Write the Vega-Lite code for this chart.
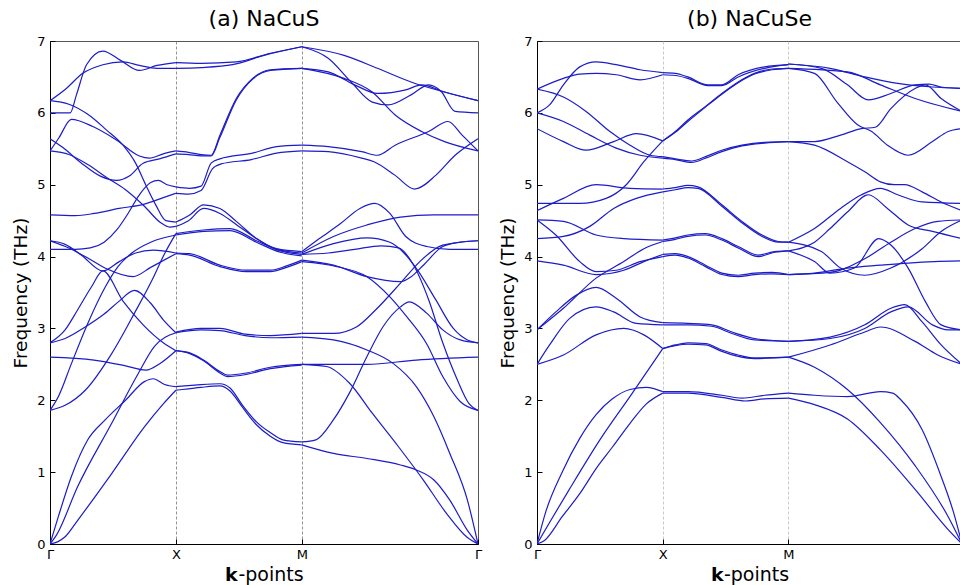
{
"$schema":"https://vega.github.io/schema/vega-lite/v6.json",
"padding":{"left":11,"top":7,"right":0,"bottom":0},
"spacing":15,
"config":{
 "font":"DejaVu Sans",
 "view":{"stroke":"#555","strokeWidth":1},
 "axis":{"domainColor":"#000","domainWidth":1,"tickColor":"#000","tickSize":-5,"labelFontSize":13,"labelColor":"#000","titleFontSize":18.5,"titleFontWeight":"normal","titleColor":"#000","labelFont":"DejaVu Sans","titleFont":"DejaVu Sans","labelFlush":false,"labelOverlap":false},
 "title":{"fontSize":22,"fontWeight":"normal","color":"#000","font":"DejaVu Sans","offset":4},
 "line":{"interpolate":"monotone","color":"#1c1cc8","strokeWidth":1.2}
},
"datasets":{
"a":[
{"b":"g1","k":0,"f":6.0},{"b":"g1","k":0.16,"f":6.0},{"b":"g1","k":0.21,"f":6.25},{"b":"g1","k":0.29,"f":6.67},{"b":"g1","k":0.42,"f":6.86},{"b":"g1","k":0.56,"f":6.73},{"b":"g1","k":0.71,"f":6.59},{"b":"g1","k":0.85,"f":6.66},{"b":"g1","k":1,"f":6.7},
{"b":"g2","k":0,"f":6.17},{"b":"g2","k":0.13,"f":6.34},{"b":"g2","k":0.26,"f":6.55},{"b":"g2","k":0.42,"f":6.67},{"b":"g2","k":0.58,"f":6.71},{"b":"g2","k":0.71,"f":6.66},{"b":"g2","k":0.85,"f":6.62},{"b":"g2","k":1,"f":6.62},
{"b":"g3","k":0,"f":6.17},{"b":"g3","k":0.15,"f":6.12},{"b":"g3","k":0.3,"f":5.98},{"b":"g3","k":0.45,"f":5.76},{"b":"g3","k":0.58,"f":5.55},{"b":"g3","k":0.68,"f":5.3},{"b":"g3","k":0.76,"f":5.0},{"b":"g3","k":0.84,"f":4.72},{"b":"g3","k":0.92,"f":4.5},{"b":"g3","k":1,"f":4.48},
{"b":"g4","k":0,"f":5.47},{"b":"g4","k":0.07,"f":5.65},{"b":"g4","k":0.17,"f":5.91},{"b":"g4","k":0.34,"f":5.81},{"b":"g4","k":0.53,"f":5.62},{"b":"g4","k":0.71,"f":5.4},{"b":"g4","k":0.79,"f":5.37},{"b":"g4","k":0.9,"f":5.43},{"b":"g4","k":1,"f":5.47},
{"b":"g5","k":0,"f":5.64},{"b":"g5","k":0.1,"f":5.52},{"b":"g5","k":0.25,"f":5.3},{"b":"g5","k":0.4,"f":5.12},{"b":"g5","k":0.53,"f":5.06},{"b":"g5","k":0.63,"f":5.12},{"b":"g5","k":0.74,"f":5.3},{"b":"g5","k":0.87,"f":5.36},{"b":"g5","k":1,"f":5.43},
{"b":"g6","k":0,"f":5.47},{"b":"g6","k":0.15,"f":5.42},{"b":"g6","k":0.3,"f":5.28},{"b":"g6","k":0.45,"f":5.1},{"b":"g6","k":0.6,"f":4.93},{"b":"g6","k":0.75,"f":4.7},{"b":"g6","k":0.88,"f":4.47},{"b":"g6","k":0.95,"f":4.41},{"b":"g6","k":1,"f":4.42},
{"b":"g7","k":0,"f":4.58},{"b":"g7","k":0.2,"f":4.57},{"b":"g7","k":0.35,"f":4.6},{"b":"g7","k":0.55,"f":4.67},{"b":"g7","k":0.75,"f":4.73},{"b":"g7","k":0.9,"f":4.82},{"b":"g7","k":1,"f":4.88},
{"b":"g8","k":0,"f":4.1},{"b":"g8","k":0.2,"f":4.1},{"b":"g8","k":0.32,"f":4.12},{"b":"g8","k":0.43,"f":4.2},{"b":"g8","k":0.53,"f":4.37},{"b":"g8","k":0.62,"f":4.6},{"b":"g8","k":0.71,"f":4.86},{"b":"g8","k":0.8,"f":5.03},{"b":"g8","k":0.86,"f":5.06},{"b":"g8","k":0.93,"f":5.0},{"b":"g8","k":1,"f":4.97},
{"b":"g9","k":0,"f":4.22},{"b":"g9","k":0.12,"f":4.17},{"b":"g9","k":0.25,"f":4.02},{"b":"g9","k":0.42,"f":3.8},{"b":"g9","k":0.55,"f":3.93},{"b":"g9","k":0.68,"f":4.05},{"b":"g9","k":0.82,"f":4.09},{"b":"g9","k":1,"f":4.05},
{"b":"g10","k":0,"f":4.22},{"b":"g10","k":0.15,"f":4.12},{"b":"g10","k":0.3,"f":3.98},{"b":"g10","k":0.45,"f":3.83},{"b":"g10","k":0.66,"f":3.72},{"b":"g10","k":0.8,"f":3.85},{"b":"g10","k":1,"f":4.04},
{"b":"g11","k":0,"f":2.8},{"b":"g11","k":0.12,"f":2.98},{"b":"g11","k":0.22,"f":3.26},{"b":"g11","k":0.33,"f":3.58},{"b":"g11","k":0.42,"f":3.8},{"b":"g11","k":0.58,"f":3.38},{"b":"g11","k":0.74,"f":3.05},{"b":"g11","k":0.9,"f":2.8},{"b":"g11","k":1,"f":2.69},
{"b":"g12","k":0,"f":2.8},{"b":"g12","k":0.12,"f":2.86},{"b":"g12","k":0.28,"f":3.02},{"b":"g12","k":0.43,"f":3.2},{"b":"g12","k":0.55,"f":3.38},{"b":"g12","k":0.67,"f":3.53},{"b":"g12","k":0.8,"f":3.35},{"b":"g12","k":0.9,"f":3.12},{"b":"g12","k":1,"f":2.94},
{"b":"g13","k":0,"f":2.6},{"b":"g13","k":0.35,"f":2.56},{"b":"g13","k":0.6,"f":2.48},{"b":"g13","k":0.76,"f":2.42},{"b":"g13","k":0.88,"f":2.52},{"b":"g13","k":1,"f":2.69},
{"b":"g14","k":0,"f":1.86},{"b":"g14","k":0.066,"f":2.05},{"b":"g14","k":0.17,"f":2.51},{"b":"g14","k":0.3,"f":3.07},{"b":"g14","k":0.44,"f":3.58},{"b":"g14","k":0.54,"f":3.86},{"b":"g14","k":0.65,"f":4.05},{"b":"g14","k":0.8,"f":4.2},{"b":"g14","k":1,"f":4.3},
{"b":"g15","k":0,"f":1.86},{"b":"g15","k":0.12,"f":1.93},{"b":"g15","k":0.28,"f":2.14},{"b":"g15","k":0.49,"f":2.65},{"b":"g15","k":0.67,"f":3.21},{"b":"g15","k":0.81,"f":3.67},{"b":"g15","k":0.91,"f":4.04},{"b":"g15","k":1,"f":4.32},
{"b":"g16","k":0,"f":0},{"b":"g16","k":0.066,"f":0.38},{"b":"g16","k":0.17,"f":0.94},{"b":"g16","k":0.3,"f":1.45},{"b":"g16","k":0.44,"f":1.73},{"b":"g16","k":0.6,"f":2.0},{"b":"g16","k":0.75,"f":2.26},{"b":"g16","k":0.82,"f":2.3},{"b":"g16","k":0.91,"f":2.22},{"b":"g16","k":1,"f":2.19},
{"b":"g17","k":0,"f":0},{"b":"g17","k":0.05,"f":0.12},{"b":"g17","k":0.22,"f":0.8},{"b":"g17","k":0.49,"f":1.68},{"b":"g17","k":0.7,"f":2.37},{"b":"g17","k":0.83,"f":2.75},{"b":"g17","k":1,"f":2.94},
{"b":"g18","k":0,"f":0},{"b":"g18","k":0.06,"f":0.03},{"b":"g18","k":0.12,"f":0.1},{"b":"g18","k":0.22,"f":0.33},{"b":"g18","k":0.49,"f":0.98},{"b":"g18","k":0.75,"f":1.63},{"b":"g18","k":0.9,"f":1.95},{"b":"g18","k":1,"f":2.14},
{"b":"x1","k":1,"f":6.7},{"b":"x1","k":1.2,"f":6.69},{"b":"x1","k":1.48,"f":6.71},{"b":"x1","k":1.75,"f":6.83},{"b":"x1","k":2,"f":6.92},
{"b":"x2","k":1,"f":6.62},{"b":"x2","k":1.2,"f":6.63},{"b":"x2","k":1.45,"f":6.67},{"b":"x2","k":1.7,"f":6.8},{"b":"x2","k":2,"f":6.92},
{"b":"x3","k":1,"f":5.47},{"b":"x3","k":1.1,"f":5.45},{"b":"x3","k":1.2,"f":5.42},{"b":"x3","k":1.28,"f":5.41},{"b":"x3","k":1.35,"f":5.69},{"b":"x3","k":1.48,"f":6.2},{"b":"x3","k":1.61,"f":6.48},{"b":"x3","k":1.75,"f":6.6},{"b":"x3","k":2,"f":6.62},
{"b":"x4","k":1,"f":5.43},{"b":"x4","k":1.1,"f":5.42},{"b":"x4","k":1.2,"f":5.4},{"b":"x4","k":1.28,"f":5.4},{"b":"x4","k":1.35,"f":5.66},{"b":"x4","k":1.48,"f":6.18},{"b":"x4","k":1.61,"f":6.47},{"b":"x4","k":1.75,"f":6.59},{"b":"x4","k":2,"f":6.62},
{"b":"x5","k":1,"f":4.97},{"b":"x5","k":1.11,"f":4.95},{"b":"x5","k":1.2,"f":4.98},{"b":"x5","k":1.28,"f":5.3},{"b":"x5","k":1.35,"f":5.36},{"b":"x5","k":1.61,"f":5.44},{"b":"x5","k":1.8,"f":5.53},{"b":"x5","k":2,"f":5.55},
{"b":"x6","k":1,"f":4.88},{"b":"x6","k":1.1,"f":4.87},{"b":"x6","k":1.2,"f":4.92},{"b":"x6","k":1.29,"f":5.22},{"b":"x6","k":1.36,"f":5.29},{"b":"x6","k":1.6,"f":5.35},{"b":"x6","k":1.8,"f":5.44},{"b":"x6","k":2,"f":5.47},
{"b":"x7","k":1,"f":4.48},{"b":"x7","k":1.11,"f":4.58},{"b":"x7","k":1.22,"f":4.72},{"b":"x7","k":1.35,"f":4.67},{"b":"x7","k":1.48,"f":4.49},{"b":"x7","k":1.64,"f":4.25},{"b":"x7","k":1.8,"f":4.11},{"b":"x7","k":2,"f":4.07},
{"b":"x8","k":1,"f":4.42},{"b":"x8","k":1.1,"f":4.5},{"b":"x8","k":1.22,"f":4.67},{"b":"x8","k":1.35,"f":4.6},{"b":"x8","k":1.5,"f":4.42},{"b":"x8","k":1.65,"f":4.24},{"b":"x8","k":1.8,"f":4.1},{"b":"x8","k":2,"f":4.05},
{"b":"x9","k":1,"f":4.32},{"b":"x9","k":1.22,"f":4.37},{"b":"x9","k":1.43,"f":4.39},{"b":"x9","k":1.64,"f":4.22},{"b":"x9","k":1.83,"f":4.08},{"b":"x9","k":2,"f":4.03},
{"b":"x10","k":1,"f":4.3},{"b":"x10","k":1.22,"f":4.35},{"b":"x10","k":1.43,"f":4.36},{"b":"x10","k":1.64,"f":4.2},{"b":"x10","k":1.83,"f":4.06},{"b":"x10","k":2,"f":4.01},
{"b":"x11","k":1,"f":4.05},{"b":"x11","k":1.11,"f":4.04},{"b":"x11","k":1.35,"f":3.88},{"b":"x11","k":1.56,"f":3.81},{"b":"x11","k":1.75,"f":3.81},{"b":"x11","k":1.88,"f":3.87},{"b":"x11","k":2,"f":3.95},
{"b":"x12","k":1,"f":4.04},{"b":"x12","k":1.11,"f":4.02},{"b":"x12","k":1.35,"f":3.86},{"b":"x12","k":1.56,"f":3.79},{"b":"x12","k":1.75,"f":3.79},{"b":"x12","k":1.88,"f":3.85},{"b":"x12","k":2,"f":3.93},
{"b":"x13","k":1,"f":2.95},{"b":"x13","k":1.2,"f":3.0},{"b":"x13","k":1.35,"f":3.0},{"b":"x13","k":1.55,"f":2.92},{"b":"x13","k":1.75,"f":2.9},{"b":"x13","k":2,"f":2.93},
{"b":"x14","k":1,"f":2.94},{"b":"x14","k":1.2,"f":2.98},{"b":"x14","k":1.35,"f":2.97},{"b":"x14","k":1.55,"f":2.9},{"b":"x14","k":1.75,"f":2.87},{"b":"x14","k":2,"f":2.88},
{"b":"x15","k":1,"f":2.69},{"b":"x15","k":1.11,"f":2.66},{"b":"x15","k":1.22,"f":2.56},{"b":"x15","k":1.35,"f":2.4},{"b":"x15","k":1.41,"f":2.35},{"b":"x15","k":1.56,"f":2.38},{"b":"x15","k":1.75,"f":2.46},{"b":"x15","k":2,"f":2.5},
{"b":"x16","k":1,"f":2.69},{"b":"x16","k":1.11,"f":2.65},{"b":"x16","k":1.22,"f":2.55},{"b":"x16","k":1.35,"f":2.38},{"b":"x16","k":1.41,"f":2.33},{"b":"x16","k":1.56,"f":2.36},{"b":"x16","k":1.75,"f":2.44},{"b":"x16","k":2,"f":2.49},
{"b":"x17","k":1,"f":2.19},{"b":"x17","k":1.15,"f":2.21},{"b":"x17","k":1.35,"f":2.23},{"b":"x17","k":1.43,"f":2.17},{"b":"x17","k":1.53,"f":1.93},{"b":"x17","k":1.64,"f":1.7},{"b":"x17","k":1.75,"f":1.55},{"b":"x17","k":1.85,"f":1.45},{"b":"x17","k":2,"f":1.42},
{"b":"x18","k":1,"f":2.14},{"b":"x18","k":1.1,"f":2.16},{"b":"x18","k":1.2,"f":2.18},{"b":"x18","k":1.35,"f":2.2},{"b":"x18","k":1.43,"f":2.13},{"b":"x18","k":1.53,"f":1.9},{"b":"x18","k":1.64,"f":1.66},{"b":"x18","k":1.75,"f":1.5},{"b":"x18","k":1.85,"f":1.41},{"b":"x18","k":2,"f":1.38},
{"b":"m1","k":2,"f":6.92},{"b":"m1","k":2.336,"f":6.8},{"b":"m1","k":2.602,"f":6.62},{"b":"m1","k":2.868,"f":6.43},{"b":"m1","k":3.134,"f":6.29},{"b":"m1","k":3.4,"f":6.17},
{"b":"m2","k":2,"f":6.92},{"b":"m2","k":2.21,"f":6.76},{"b":"m2","k":2.392,"f":6.43},{"b":"m2","k":2.56,"f":6.15},{"b":"m2","k":2.686,"f":6.11},{"b":"m2","k":2.868,"f":6.25},{"b":"m2","k":3.008,"f":6.39},{"b":"m2","k":3.106,"f":6.3},{"b":"m2","k":3.218,"f":6.02},{"b":"m2","k":3.4,"f":6.0},
{"b":"m3","k":2,"f":6.62},{"b":"m3","k":2.21,"f":6.57},{"b":"m3","k":2.42,"f":6.39},{"b":"m3","k":2.602,"f":6.27},{"b":"m3","k":2.826,"f":6.32},{"b":"m3","k":2.952,"f":6.39},{"b":"m3","k":3.134,"f":6.29},{"b":"m3","k":3.4,"f":6.17},
{"b":"m4","k":2,"f":6.62},{"b":"m4","k":2.336,"f":6.48},{"b":"m4","k":2.56,"f":6.29},{"b":"m4","k":2.742,"f":5.97},{"b":"m4","k":2.952,"f":5.74},{"b":"m4","k":3.134,"f":5.6},{"b":"m4","k":3.4,"f":5.47},
{"b":"m5","k":2,"f":5.55},{"b":"m5","k":2.21,"f":5.53},{"b":"m5","k":2.476,"f":5.46},{"b":"m5","k":2.602,"f":5.41},{"b":"m5","k":2.742,"f":5.55},{"b":"m5","k":3.008,"f":5.74},{"b":"m5","k":3.162,"f":5.88},{"b":"m5","k":3.274,"f":5.69},{"b":"m5","k":3.4,"f":5.47},
{"b":"m6","k":2,"f":5.47},{"b":"m6","k":2.21,"f":5.46},{"b":"m6","k":2.476,"f":5.37},{"b":"m6","k":2.574,"f":5.32},{"b":"m6","k":2.742,"f":5.13},{"b":"m6","k":2.896,"f":4.94},{"b":"m6","k":3.064,"f":5.13},{"b":"m6","k":3.218,"f":5.41},{"b":"m6","k":3.4,"f":5.64},
{"b":"m7","k":2,"f":4.07},{"b":"m7","k":2.14,"f":4.25},{"b":"m7","k":2.308,"f":4.46},{"b":"m7","k":2.462,"f":4.67},{"b":"m7","k":2.581,"f":4.74},{"b":"m7","k":2.7,"f":4.6},{"b":"m7","k":2.826,"f":4.28},{"b":"m7","k":2.994,"f":4.14},{"b":"m7","k":3.176,"f":4.1},{"b":"m7","k":3.4,"f":4.1},
{"b":"m8","k":2,"f":4.05},{"b":"m8","k":2.252,"f":4.28},{"b":"m8","k":2.518,"f":4.44},{"b":"m8","k":2.784,"f":4.55},{"b":"m8","k":3.05,"f":4.58},{"b":"m8","k":3.4,"f":4.58},
{"b":"m9","k":2,"f":4.03},{"b":"m9","k":2.252,"f":4.18},{"b":"m9","k":2.518,"f":4.26},{"b":"m9","k":2.7,"f":4.2},{"b":"m9","k":2.812,"f":4.05},{"b":"m9","k":2.924,"f":3.8},{"b":"m9","k":3.064,"f":3.4},{"b":"m9","k":3.204,"f":3.0},{"b":"m9","k":3.316,"f":2.84},{"b":"m9","k":3.4,"f":2.8},
{"b":"m10","k":2,"f":4.03},{"b":"m10","k":2.21,"f":4.05},{"b":"m10","k":2.42,"f":4.1},{"b":"m10","k":2.63,"f":4.15},{"b":"m10","k":2.77,"f":4.12},{"b":"m10","k":2.882,"f":3.9},{"b":"m10","k":3.008,"f":3.4},{"b":"m10","k":3.12,"f":2.8},{"b":"m10","k":3.232,"f":2.3},{"b":"m10","k":3.33,"f":1.95},{"b":"m10","k":3.4,"f":1.86},
{"b":"m11","k":2,"f":3.95},{"b":"m11","k":2.252,"f":3.88},{"b":"m11","k":2.518,"f":3.72},{"b":"m11","k":2.784,"f":3.65},{"b":"m11","k":2.868,"f":3.72},{"b":"m11","k":2.966,"f":3.88},{"b":"m11","k":3.12,"f":4.14},{"b":"m11","k":3.26,"f":4.2},{"b":"m11","k":3.4,"f":4.22},
{"b":"m12","k":2,"f":3.93},{"b":"m12","k":2.28,"f":3.86},{"b":"m12","k":2.518,"f":3.72},{"b":"m12","k":2.7,"f":3.44},{"b":"m12","k":2.84,"f":3.15},{"b":"m12","k":2.994,"f":2.78},{"b":"m12","k":3.12,"f":2.33},{"b":"m12","k":3.26,"f":1.98},{"b":"m12","k":3.4,"f":1.86},
{"b":"m13","k":2,"f":2.93},{"b":"m13","k":2.252,"f":2.93},{"b":"m13","k":2.434,"f":3.02},{"b":"m13","k":2.588,"f":3.26},{"b":"m13","k":2.784,"f":3.63},{"b":"m13","k":2.938,"f":3.93},{"b":"m13","k":3.12,"f":4.16},{"b":"m13","k":3.4,"f":4.22},
{"b":"m14","k":2,"f":1.42},{"b":"m14","k":2.112,"f":1.45},{"b":"m14","k":2.252,"f":1.73},{"b":"m14","k":2.378,"f":2.1},{"b":"m14","k":2.518,"f":2.61},{"b":"m14","k":2.644,"f":3.02},{"b":"m14","k":2.784,"f":3.3},{"b":"m14","k":2.854,"f":3.37},{"b":"m14","k":2.994,"f":3.21},{"b":"m14","k":3.12,"f":2.98},{"b":"m14","k":3.26,"f":2.84},{"b":"m14","k":3.4,"f":2.8},
{"b":"m15","k":2,"f":2.88},{"b":"m15","k":2.252,"f":2.84},{"b":"m15","k":2.518,"f":2.7},{"b":"m15","k":2.728,"f":2.51},{"b":"m15","k":2.91,"f":2.19},{"b":"m15","k":3.05,"f":1.77},{"b":"m15","k":3.176,"f":1.26},{"b":"m15","k":3.316,"f":0.61},{"b":"m15","k":3.4,"f":0},
{"b":"m16","k":2,"f":2.5},{"b":"m16","k":2.518,"f":2.5},{"b":"m16","k":2.91,"f":2.56},{"b":"m16","k":3.4,"f":2.6},
{"b":"m17","k":2,"f":2.5},{"b":"m17","k":2.196,"f":2.47},{"b":"m17","k":2.378,"f":2.24},{"b":"m17","k":2.56,"f":1.82},{"b":"m17","k":2.77,"f":1.35},{"b":"m17","k":2.966,"f":0.89},{"b":"m17","k":3.148,"f":0.43},{"b":"m17","k":3.316,"f":0.09},{"b":"m17","k":3.4,"f":0},
{"b":"m18","k":2,"f":1.38},{"b":"m18","k":2.252,"f":1.26},{"b":"m18","k":2.518,"f":1.19},{"b":"m18","k":2.784,"f":1.1},{"b":"m18","k":2.91,"f":1.03},{"b":"m18","k":3.05,"f":0.89},{"b":"m18","k":3.176,"f":0.61},{"b":"m18","k":3.316,"f":0.19},{"b":"m18","k":3.4,"f":0}
],
"b":[
{"b":"R1","k":0,"f":6.0},{"b":"R1","k":0.1,"f":6.11},{"b":"R1","k":0.21,"f":6.39},{"b":"R1","k":0.34,"f":6.64},{"b":"R1","k":0.47,"f":6.71},{"b":"R1","k":0.63,"f":6.67},{"b":"R1","k":0.82,"f":6.6},{"b":"R1","k":1,"f":6.56},
{"b":"R2","k":0,"f":6.33},{"b":"R2","k":0.21,"f":6.48},{"b":"R2","k":0.34,"f":6.54},{"b":"R2","k":0.47,"f":6.55},{"b":"R2","k":0.63,"f":6.53},{"b":"R2","k":0.82,"f":6.46},{"b":"R2","k":1,"f":6.53},
{"b":"R3","k":0,"f":6.33},{"b":"R3","k":0.21,"f":6.22},{"b":"R3","k":0.39,"f":6.02},{"b":"R3","k":0.58,"f":5.74},{"b":"R3","k":0.74,"f":5.55},{"b":"R3","k":0.9,"f":5.41},{"b":"R3","k":1,"f":5.39},
{"b":"R4","k":0,"f":6.0},{"b":"R4","k":0.21,"f":5.88},{"b":"R4","k":0.42,"f":5.69},{"b":"R4","k":0.63,"f":5.51},{"b":"R4","k":0.82,"f":5.41},{"b":"R4","k":1,"f":5.37},
{"b":"R5","k":0,"f":5.78},{"b":"R5","k":0.21,"f":5.6},{"b":"R5","k":0.39,"f":5.48},{"b":"R5","k":0.61,"f":5.6},{"b":"R5","k":0.79,"f":5.71},{"b":"R5","k":1,"f":5.61},
{"b":"R6","k":0,"f":4.74},{"b":"R6","k":0.34,"f":4.74},{"b":"R6","k":0.55,"f":4.81},{"b":"R6","k":0.71,"f":5.0},{"b":"R6","k":0.85,"f":5.32},{"b":"R6","k":1,"f":5.61},
{"b":"R7","k":0,"f":4.64},{"b":"R7","k":0.21,"f":4.81},{"b":"R7","k":0.47,"f":5.0},{"b":"R7","k":0.74,"f":4.95},{"b":"R7","k":1,"f":4.94},
{"b":"R8","k":0,"f":4.51},{"b":"R8","k":0.21,"f":4.49},{"b":"R8","k":0.47,"f":4.3},{"b":"R8","k":0.69,"f":4.25},{"b":"R8","k":1,"f":4.23},
{"b":"R9","k":0,"f":4.51},{"b":"R9","k":0.15,"f":4.3},{"b":"R9","k":0.34,"f":3.93},{"b":"R9","k":0.47,"f":3.79},{"b":"R9","k":0.63,"f":3.81},{"b":"R9","k":0.82,"f":3.93},{"b":"R9","k":1,"f":4.0},
{"b":"R10","k":0,"f":4.25},{"b":"R10","k":0.21,"f":4.28},{"b":"R10","k":0.42,"f":4.42},{"b":"R10","k":0.61,"f":4.67},{"b":"R10","k":0.79,"f":4.81},{"b":"R10","k":1,"f":4.9},
{"b":"R11","k":0,"f":3.94},{"b":"R11","k":0.21,"f":3.88},{"b":"R11","k":0.47,"f":3.75},{"b":"R11","k":0.69,"f":3.81},{"b":"R11","k":0.85,"f":3.93},{"b":"R11","k":1,"f":4.03},
{"b":"R12","k":0,"f":2.98},{"b":"R12","k":0.21,"f":3.28},{"b":"R12","k":0.47,"f":3.7},{"b":"R12","k":0.69,"f":3.93},{"b":"R12","k":0.85,"f":4.11},{"b":"R12","k":1,"f":4.21},
{"b":"R13","k":0,"f":2.98},{"b":"R13","k":0.15,"f":3.23},{"b":"R13","k":0.31,"f":3.46},{"b":"R13","k":0.47,"f":3.57},{"b":"R13","k":0.63,"f":3.42},{"b":"R13","k":0.82,"f":3.16},{"b":"R13","k":1,"f":3.08},
{"b":"R14","k":0,"f":2.5},{"b":"R14","k":0.1,"f":2.77},{"b":"R14","k":0.26,"f":3.14},{"b":"R14","k":0.47,"f":3.3},{"b":"R14","k":0.61,"f":3.23},{"b":"R14","k":0.79,"f":3.07},{"b":"R14","k":1,"f":3.05},
{"b":"R15","k":0,"f":2.5},{"b":"R15","k":0.21,"f":2.63},{"b":"R15","k":0.47,"f":2.91},{"b":"R15","k":0.69,"f":3.0},{"b":"R15","k":0.85,"f":2.91},{"b":"R15","k":1,"f":2.72},
{"b":"R16","k":0,"f":0},{"b":"R16","k":0.07,"f":0.45},{"b":"R16","k":0.2,"f":1.0},{"b":"R16","k":0.34,"f":1.47},{"b":"R16","k":0.47,"f":1.8},{"b":"R16","k":0.6,"f":2.02},{"b":"R16","k":0.74,"f":2.15},{"b":"R16","k":0.87,"f":2.18},{"b":"R16","k":1,"f":2.12},
{"b":"R17","k":0,"f":0},{"b":"R17","k":0.1,"f":0.3},{"b":"R17","k":0.25,"f":0.74},{"b":"R17","k":0.5,"f":1.45},{"b":"R17","k":0.75,"f":2.08},{"b":"R17","k":1,"f":2.72},
{"b":"R18","k":0,"f":0},{"b":"R18","k":0.06,"f":0.05},{"b":"R18","k":0.2,"f":0.38},{"b":"R18","k":0.34,"f":0.7},{"b":"R18","k":0.47,"f":1.05},{"b":"R18","k":0.6,"f":1.35},{"b":"R18","k":0.74,"f":1.68},{"b":"R18","k":0.87,"f":1.95},{"b":"R18","k":1,"f":2.1},
{"b":"y1","k":1,"f":6.56},{"b":"y1","k":1.1,"f":6.55},{"b":"y1","k":1.2,"f":6.5},{"b":"y1","k":1.36,"f":6.39},{"b":"y1","k":1.47,"f":6.39},{"b":"y1","k":1.6,"f":6.53},{"b":"y1","k":1.81,"f":6.64},{"b":"y1","k":2,"f":6.67},
{"b":"y2","k":1,"f":6.53},{"b":"y2","k":1.1,"f":6.52},{"b":"y2","k":1.2,"f":6.48},{"b":"y2","k":1.36,"f":6.38},{"b":"y2","k":1.47,"f":6.38},{"b":"y2","k":1.6,"f":6.5},{"b":"y2","k":1.81,"f":6.62},{"b":"y2","k":2,"f":6.67},
{"b":"y3","k":1,"f":5.61},{"b":"y3","k":1.1,"f":5.74},{"b":"y3","k":1.2,"f":5.9},{"b":"y3","k":1.34,"f":6.09},{"b":"y3","k":1.47,"f":6.27},{"b":"y3","k":1.6,"f":6.43},{"b":"y3","k":1.73,"f":6.55},{"b":"y3","k":1.87,"f":6.61},{"b":"y3","k":2,"f":6.62},
{"b":"y4","k":1,"f":5.61},{"b":"y4","k":1.1,"f":5.73},{"b":"y4","k":1.2,"f":5.88},{"b":"y4","k":1.34,"f":6.08},{"b":"y4","k":1.47,"f":6.26},{"b":"y4","k":1.6,"f":6.42},{"b":"y4","k":1.73,"f":6.54},{"b":"y4","k":1.87,"f":6.6},{"b":"y4","k":2,"f":6.62},
{"b":"y5","k":1,"f":5.39},{"b":"y5","k":1.1,"f":5.36},{"b":"y5","k":1.23,"f":5.33},{"b":"y5","k":1.34,"f":5.39},{"b":"y5","k":1.47,"f":5.48},{"b":"y5","k":1.63,"f":5.55},{"b":"y5","k":1.81,"f":5.59},{"b":"y5","k":2,"f":5.6},
{"b":"y6","k":1,"f":5.37},{"b":"y6","k":1.1,"f":5.35},{"b":"y6","k":1.23,"f":5.31},{"b":"y6","k":1.34,"f":5.37},{"b":"y6","k":1.47,"f":5.46},{"b":"y6","k":1.63,"f":5.54},{"b":"y6","k":1.81,"f":5.58},{"b":"y6","k":2,"f":5.6},
{"b":"y7","k":1,"f":4.94},{"b":"y7","k":1.1,"f":4.96},{"b":"y7","k":1.2,"f":4.99},{"b":"y7","k":1.28,"f":4.97},{"b":"y7","k":1.47,"f":4.72},{"b":"y7","k":1.63,"f":4.49},{"b":"y7","k":1.79,"f":4.3},{"b":"y7","k":1.92,"f":4.21},{"b":"y7","k":2,"f":4.2},
{"b":"y8","k":1,"f":4.9},{"b":"y8","k":1.1,"f":4.93},{"b":"y8","k":1.2,"f":4.96},{"b":"y8","k":1.28,"f":4.95},{"b":"y8","k":1.47,"f":4.7},{"b":"y8","k":1.63,"f":4.47},{"b":"y8","k":1.79,"f":4.28},{"b":"y8","k":1.92,"f":4.2},{"b":"y8","k":2,"f":4.2},
{"b":"y9","k":1,"f":4.23},{"b":"y9","k":1.1,"f":4.26},{"b":"y9","k":1.2,"f":4.3},{"b":"y9","k":1.34,"f":4.32},{"b":"y9","k":1.47,"f":4.25},{"b":"y9","k":1.6,"f":4.14},{"b":"y9","k":1.76,"f":4.02},{"b":"y9","k":1.89,"f":4.07},{"b":"y9","k":2,"f":4.08},
{"b":"y10","k":1,"f":4.21},{"b":"y10","k":1.1,"f":4.24},{"b":"y10","k":1.2,"f":4.28},{"b":"y10","k":1.34,"f":4.3},{"b":"y10","k":1.47,"f":4.23},{"b":"y10","k":1.6,"f":4.12},{"b":"y10","k":1.76,"f":4.0},{"b":"y10","k":1.89,"f":4.06},{"b":"y10","k":2,"f":4.08},
{"b":"y11","k":1,"f":4.03},{"b":"y11","k":1.1,"f":4.04},{"b":"y11","k":1.2,"f":4.0},{"b":"y11","k":1.34,"f":3.88},{"b":"y11","k":1.47,"f":3.77},{"b":"y11","k":1.6,"f":3.74},{"b":"y11","k":1.73,"f":3.77},{"b":"y11","k":1.87,"f":3.78},{"b":"y11","k":2,"f":3.75},
{"b":"y12","k":1,"f":4.0},{"b":"y12","k":1.1,"f":4.02},{"b":"y12","k":1.2,"f":3.98},{"b":"y12","k":1.34,"f":3.86},{"b":"y12","k":1.47,"f":3.75},{"b":"y12","k":1.6,"f":3.72},{"b":"y12","k":1.73,"f":3.75},{"b":"y12","k":1.87,"f":3.76},{"b":"y12","k":2,"f":3.75},
{"b":"y13","k":1,"f":3.08},{"b":"y13","k":1.2,"f":3.07},{"b":"y13","k":1.39,"f":3.05},{"b":"y13","k":1.55,"f":2.95},{"b":"y13","k":1.73,"f":2.86},{"b":"y13","k":2,"f":2.82},
{"b":"y14","k":1,"f":3.05},{"b":"y14","k":1.2,"f":3.05},{"b":"y14","k":1.39,"f":3.03},{"b":"y14","k":1.55,"f":2.93},{"b":"y14","k":1.73,"f":2.84},{"b":"y14","k":2,"f":2.82},
{"b":"y15","k":1,"f":2.72},{"b":"y15","k":1.1,"f":2.77},{"b":"y15","k":1.2,"f":2.8},{"b":"y15","k":1.34,"f":2.79},{"b":"y15","k":1.47,"f":2.7},{"b":"y15","k":1.6,"f":2.63},{"b":"y15","k":1.73,"f":2.59},{"b":"y15","k":2,"f":2.6},
{"b":"y16","k":1,"f":2.72},{"b":"y16","k":1.1,"f":2.76},{"b":"y16","k":1.2,"f":2.78},{"b":"y16","k":1.34,"f":2.77},{"b":"y16","k":1.47,"f":2.68},{"b":"y16","k":1.6,"f":2.61},{"b":"y16","k":1.73,"f":2.58},{"b":"y16","k":2,"f":2.6},
{"b":"y17","k":1,"f":2.12},{"b":"y17","k":1.2,"f":2.12},{"b":"y17","k":1.47,"f":2.07},{"b":"y17","k":1.63,"f":2.03},{"b":"y17","k":1.81,"f":2.07},{"b":"y17","k":2,"f":2.1},
{"b":"y18","k":1,"f":2.1},{"b":"y18","k":1.2,"f":2.1},{"b":"y18","k":1.47,"f":2.04},{"b":"y18","k":1.66,"f":1.99},{"b":"y18","k":1.81,"f":2.02},{"b":"y18","k":2,"f":2.03},
{"b":"n1","k":2,"f":6.68},{"b":"n1","k":2.331,"f":6.62},{"b":"n1","k":2.607,"f":6.5},{"b":"n1","k":2.869,"f":6.41},{"b":"n1","k":3.145,"f":6.36},{"b":"n1","k":3.38,"f":6.34},
{"b":"n2","k":2,"f":6.68},{"b":"n2","k":2.262,"f":6.62},{"b":"n2","k":2.469,"f":6.39},{"b":"n2","k":2.635,"f":6.18},{"b":"n2","k":2.814,"f":6.27},{"b":"n2","k":3.007,"f":6.39},{"b":"n2","k":3.118,"f":6.4},{"b":"n2","k":3.214,"f":6.36},{"b":"n2","k":3.38,"f":6.34},
{"b":"n3","k":2,"f":6.62},{"b":"n3","k":2.207,"f":6.55},{"b":"n3","k":2.386,"f":6.15},{"b":"n3","k":2.552,"f":5.83},{"b":"n3","k":2.662,"f":5.74},{"b":"n3","k":2.787,"f":5.55},{"b":"n3","k":2.952,"f":5.41},{"b":"n3","k":3.145,"f":5.6},{"b":"n3","k":3.27,"f":5.74},{"b":"n3","k":3.38,"f":5.78},
{"b":"n4","k":2,"f":6.62},{"b":"n4","k":2.469,"f":6.57},{"b":"n4","k":2.731,"f":6.39},{"b":"n4","k":3.007,"f":6.2},{"b":"n4","k":3.38,"f":6.02},
{"b":"n5","k":2,"f":5.6},{"b":"n5","k":2.207,"f":5.6},{"b":"n5","k":2.414,"f":5.69},{"b":"n5","k":2.58,"f":5.78},{"b":"n5","k":2.69,"f":5.8},{"b":"n5","k":2.814,"f":6.06},{"b":"n5","k":3.007,"f":6.34},{"b":"n5","k":3.09,"f":6.39},{"b":"n5","k":3.214,"f":6.2},{"b":"n5","k":3.38,"f":6.02},
{"b":"n6","k":2,"f":5.6},{"b":"n6","k":2.207,"f":5.55},{"b":"n6","k":2.469,"f":5.32},{"b":"n6","k":2.607,"f":5.18},{"b":"n6","k":2.731,"f":5.04},{"b":"n6","k":2.842,"f":5.0},{"b":"n6","k":2.925,"f":5.0},{"b":"n6","k":3.063,"f":4.9},{"b":"n6","k":3.214,"f":4.76},{"b":"n6","k":3.38,"f":4.64},
{"b":"n7","k":2,"f":4.2},{"b":"n7","k":2.207,"f":4.39},{"b":"n7","k":2.414,"f":4.67},{"b":"n7","k":2.58,"f":4.86},{"b":"n7","k":2.731,"f":4.95},{"b":"n7","k":2.869,"f":4.86},{"b":"n7","k":3.063,"f":4.76},{"b":"n7","k":3.38,"f":4.74},
{"b":"n8","k":2,"f":4.08},{"b":"n8","k":2.207,"f":4.2},{"b":"n8","k":2.331,"f":4.39},{"b":"n8","k":2.469,"f":4.62},{"b":"n8","k":2.635,"f":4.86},{"b":"n8","k":2.787,"f":4.67},{"b":"n8","k":2.952,"f":4.44},{"b":"n8","k":3.145,"f":4.35},{"b":"n8","k":3.38,"f":4.25},
{"b":"n9","k":2,"f":4.08},{"b":"n9","k":2.207,"f":3.93},{"b":"n9","k":2.331,"f":3.77},{"b":"n9","k":2.524,"f":3.84},{"b":"n9","k":2.718,"f":4.25},{"b":"n9","k":2.814,"f":4.16},{"b":"n9","k":2.952,"f":3.84},{"b":"n9","k":3.09,"f":3.37},{"b":"n9","k":3.214,"f":3.05},{"b":"n9","k":3.38,"f":2.98},
{"b":"n10","k":2,"f":4.2},{"b":"n10","k":2.262,"f":4.07},{"b":"n10","k":2.414,"f":3.84},{"b":"n10","k":2.607,"f":3.74},{"b":"n10","k":2.814,"f":3.84},{"b":"n10","k":3.063,"f":4.11},{"b":"n10","k":3.214,"f":4.35},{"b":"n10","k":3.38,"f":4.51},
{"b":"n11","k":2,"f":3.75},{"b":"n11","k":2.331,"f":3.78},{"b":"n11","k":2.607,"f":3.97},{"b":"n11","k":2.814,"f":4.2},{"b":"n11","k":3.007,"f":4.39},{"b":"n11","k":3.187,"f":4.49},{"b":"n11","k":3.38,"f":4.51},
{"b":"n12","k":2,"f":3.75},{"b":"n12","k":2.207,"f":3.77},{"b":"n12","k":2.469,"f":3.84},{"b":"n12","k":2.731,"f":3.88},{"b":"n12","k":2.952,"f":3.91},{"b":"n12","k":3.159,"f":3.93},{"b":"n12","k":3.38,"f":3.94},
{"b":"n13","k":2,"f":2.82},{"b":"n13","k":2.331,"f":2.88},{"b":"n13","k":2.607,"f":3.05},{"b":"n13","k":2.814,"f":3.28},{"b":"n13","k":2.925,"f":3.33},{"b":"n13","k":3.063,"f":3.09},{"b":"n13","k":3.214,"f":2.77},{"b":"n13","k":3.38,"f":2.5},
{"b":"n14","k":2,"f":2.82},{"b":"n14","k":2.331,"f":2.86},{"b":"n14","k":2.607,"f":3.0},{"b":"n14","k":2.814,"f":3.23},{"b":"n14","k":2.952,"f":3.3},{"b":"n14","k":3.145,"f":3.05},{"b":"n14","k":3.27,"f":2.98},{"b":"n14","k":3.38,"f":2.98},
{"b":"n15","k":2,"f":2.6},{"b":"n15","k":2.331,"f":2.77},{"b":"n15","k":2.607,"f":2.95},{"b":"n15","k":2.731,"f":3.02},{"b":"n15","k":3.007,"f":2.82},{"b":"n15","k":3.187,"f":2.63},{"b":"n15","k":3.38,"f":2.5},
{"b":"n16","k":2,"f":2.6},{"b":"n16","k":2.207,"f":2.46},{"b":"n16","k":2.469,"f":2.15},{"b":"n16","k":2.731,"f":1.69},{"b":"n16","k":3.007,"f":1.09},{"b":"n16","k":3.27,"f":0.38},{"b":"n16","k":3.38,"f":0},
{"b":"n17","k":2,"f":2.1},{"b":"n17","k":2.207,"f":2.07},{"b":"n17","k":2.469,"f":2.05},{"b":"n17","k":2.731,"f":2.12},{"b":"n17","k":2.828,"f":2.1},{"b":"n17","k":2.897,"f":2.0},{"b":"n17","k":3.063,"f":1.59},{"b":"n17","k":3.214,"f":0.94},{"b":"n17","k":3.311,"f":0.45},{"b":"n17","k":3.38,"f":0},
{"b":"n18","k":2,"f":2.03},{"b":"n18","k":2.207,"f":1.94},{"b":"n18","k":2.469,"f":1.74},{"b":"n18","k":2.731,"f":1.31},{"b":"n18","k":3.007,"f":0.76},{"b":"n18","k":3.27,"f":0.2},{"b":"n18","k":3.38,"f":0}
]
},
"hconcat":[
 {"width":428,"height":503,"title":"(a) NaCuS","data":{"name":"a"},
  "mark":{"type":"line","clip":true},
  "encoding":{
   "x":{"field":"k","type":"quantitative","scale":{"domain":[0,3.4],"nice":false,"zero":false},
     "axis":{"values":[0,1,2,3.4],"labelExpr":"datum.value==0?'Γ':datum.value==1?'X':datum.value==2?'M':'Γ'","title":"𝗸-points","labelPadding":9,"titlePadding":4,"titleFontSize":19,"grid":true,"gridColor":"#777","gridDash":[3,2],"gridWidth":0.8,"gridOpacity":{"condition":{"test":"datum.value==1||datum.value==2","value":1},"value":0}}},
   "y":{"field":"f","type":"quantitative","scale":{"domain":[0,7],"nice":false},
     "axis":{"values":[0,1,2,3,4,5,6,7],"title":"Frequency (THz)","labelPadding":10,"titlePadding":6,"grid":false}},
   "detail":{"field":"b"}
  }},
 {"width":425,"height":503,"title":"(b) NaCuSe","data":{"name":"b"},
  "mark":{"type":"line","clip":true},
  "encoding":{
   "x":{"field":"k","type":"quantitative","scale":{"domain":[0,3.38],"nice":false,"zero":false},
     "axis":{"values":[0,1,2,3.38],"labelExpr":"datum.value==0?'Γ':datum.value==1?'X':datum.value==2?'M':''","title":"𝗸-points","labelPadding":9,"titlePadding":4,"titleFontSize":19,"grid":true,"gridColor":"#bbb","gridDash":[3,2],"gridWidth":0.8,"gridOpacity":{"condition":{"test":"datum.value==1||datum.value==2","value":1},"value":0}}},
   "y":{"field":"f","type":"quantitative","scale":{"domain":[0,7],"nice":false},
     "axis":{"values":[0,1,2,3,4,5,6,7],"title":"Frequency (THz)","labelPadding":10,"titlePadding":6,"grid":false}},
   "detail":{"field":"b"}
  }}
]
}
